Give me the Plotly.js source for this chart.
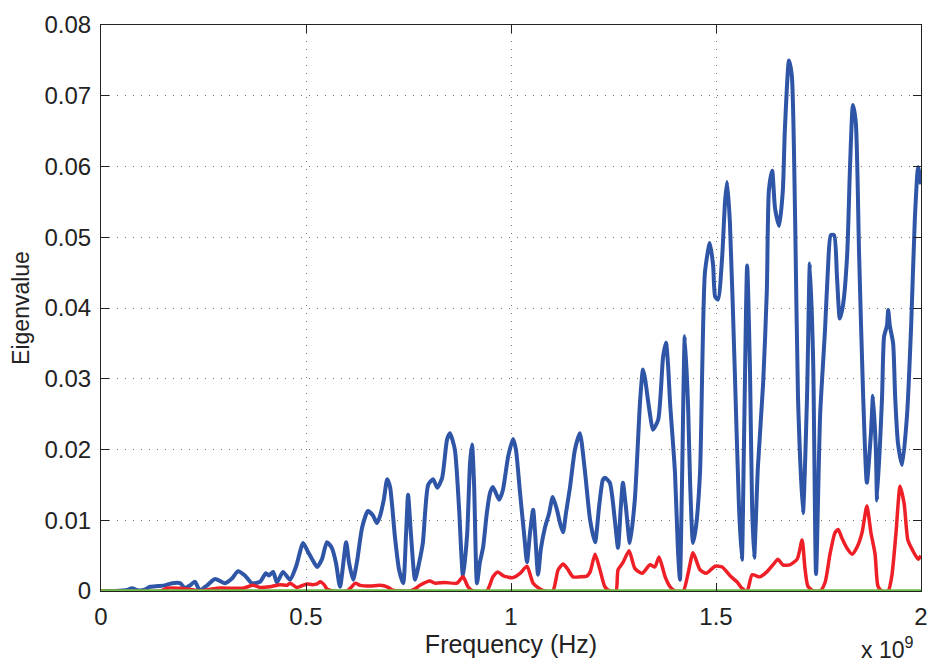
<!DOCTYPE html>
<html>
<head>
<meta charset="utf-8">
<script src="https://cdn.plot.ly/plotly-3.0.1.min.js"></script>
<style>
html,body{margin:0;padding:0;background:#fff;}
#chart{width:928px;height:664px;}
</style>
</head>
<body>
<div id="chart"></div>
<script>
// Frequency in units of 1e9 Hz
const blueFreq = [0.000,0.034,0.066,0.076,0.090,0.107,0.120,0.139,0.156,0.173,0.193,0.205,0.217,0.229,0.241,0.259,0.278,0.302,0.320,0.334,0.351,0.368,0.388,0.402,0.410,0.420,0.429,0.444,0.461,0.476,0.493,0.505,0.515,0.527,0.539,0.551,0.563,0.573,0.583,0.598,0.605,0.615,0.624,0.637,0.651,0.663,0.673,0.680,0.690,0.698,0.705,0.717,0.727,0.737,0.744,0.749,0.756,0.766,0.776,0.785,0.798,0.810,0.820,0.832,0.844,0.851,0.863,0.873,0.883,0.893,0.900,0.905,0.910,0.917,0.924,0.932,0.941,0.949,0.956,0.971,0.980,0.993,1.005,1.012,1.022,1.032,1.039,1.046,1.054,1.059,1.066,1.073,1.083,1.093,1.102,1.112,1.120,1.127,1.134,1.144,1.156,1.168,1.180,1.193,1.205,1.215,1.224,1.229,1.241,1.254,1.261,1.268,1.273,1.280,1.290,1.302,1.315,1.322,1.327,1.334,1.339,1.346,1.359,1.371,1.378,1.383,1.388,1.400,1.407,1.412,1.417,1.424,1.432,1.437,1.444,1.451,1.461,1.473,1.485,1.493,1.498,1.505,1.515,1.522,1.527,1.534,1.546,1.556,1.563,1.568,1.576,1.583,1.588,1.593,1.602,1.615,1.624,1.629,1.637,1.644,1.654,1.663,1.668,1.678,1.685,1.693,1.700,1.712,1.722,1.729,1.737,1.744,1.754,1.766,1.773,1.780,1.788,1.795,1.802,1.810,1.820,1.827,1.834,1.841,1.849,1.859,1.868,1.878,1.883,1.890,1.893,1.905,1.910,1.917,1.920,1.924,1.932,1.937,1.944,1.954,1.966,1.976,1.985,1.993,2.000];
const blueEig = [0,0,0.0002,0.0004,0.0001,0.0002,0.0006,0.0007,0.0008,0.0011,0.0011,0.0004,0.0008,0.0013,0.0001,0.0008,0.0017,0.0011,0.0018,0.0028,0.0022,0.0011,0.0013,0.0025,0.0022,0.0027,0.0012,0.0027,0.0016,0.0035,0.0068,0.0055,0.0045,0.0034,0.0045,0.0069,0.0061,0.0040,0.0006,0.0069,0.0040,0.0016,0.0040,0.0090,0.0113,0.0107,0.0096,0.0105,0.0130,0.0158,0.0147,0.0076,0.0030,0.0011,0.0080,0.0136,0.0080,0.0016,0.0040,0.0068,0.0150,0.0158,0.0146,0.0160,0.0214,0.0223,0.0200,0.0120,0.0020,0.0080,0.0180,0.0207,0.0150,0.0011,0.0040,0.0062,0.0110,0.0139,0.0147,0.0129,0.0142,0.0190,0.0215,0.0200,0.0139,0.0080,0.0041,0.0080,0.0115,0.0080,0.0023,0.0060,0.0090,0.0110,0.0133,0.0115,0.0095,0.0083,0.0110,0.0147,0.0200,0.0223,0.0171,0.0100,0.0069,0.0120,0.0157,0.0160,0.0153,0.0096,0.0061,0.0120,0.0153,0.0120,0.0068,0.0129,0.0270,0.0313,0.0300,0.0270,0.0250,0.0228,0.0242,0.0331,0.0351,0.0320,0.0266,0.0167,0.0060,0.0016,0.0150,0.0360,0.0260,0.0150,0.0068,0.0090,0.0167,0.0450,0.0492,0.0460,0.0416,0.0412,0.0472,0.0550,0.0578,0.0520,0.0308,0.0120,0.0044,0.0200,0.0460,0.0308,0.0120,0.0047,0.0173,0.0294,0.0425,0.0566,0.0594,0.0541,0.0516,0.0566,0.0652,0.0750,0.0728,0.0526,0.0274,0.0110,0.0274,0.0463,0.0324,0.0024,0.0249,0.0370,0.0455,0.0503,0.0503,0.0445,0.0385,0.0405,0.0476,0.0602,0.0687,0.0662,0.0476,0.0274,0.0153,0.0224,0.0276,0.0198,0.0128,0.0274,0.0360,0.0375,0.0397,0.0375,0.0350,0.0274,0.0208,0.0178,0.0249,0.0375,0.0526,0.0599,0.0575];

const redFreq = [0.000,0.144,0.161,0.210,0.241,0.283,0.346,0.371,0.388,0.412,0.437,0.454,0.461,0.478,0.502,0.515,0.527,0.534,0.544,0.551,0.566,0.600,0.610,0.620,0.632,0.656,0.680,0.698,0.712,0.754,0.766,0.778,0.802,0.815,0.839,0.868,0.883,0.895,0.907,0.941,0.956,0.968,0.980,0.990,1.005,1.022,1.039,1.054,1.071,1.083,1.102,1.115,1.127,1.137,1.151,1.168,1.185,1.193,1.205,1.217,1.229,1.241,1.256,1.261,1.273,1.288,1.302,1.320,1.339,1.351,1.361,1.376,1.388,1.400,1.420,1.432,1.444,1.461,1.476,1.498,1.515,1.537,1.551,1.563,1.576,1.588,1.607,1.624,1.639,1.651,1.663,1.680,1.698,1.710,1.717,1.724,1.737,1.754,1.766,1.778,1.790,1.798,1.807,1.820,1.832,1.844,1.856,1.868,1.878,1.888,1.895,1.905,1.920,1.929,1.939,1.949,1.959,1.968,1.980,1.993,2.000];
const redEig = [0,0,0.0004,0.0003,0,0.0004,0.0004,0.0008,0.0005,0.0006,0.0009,0.0008,0.0011,0.0005,0.0010,0.0009,0.0010,0.0013,0.0009,0.0003,0,0,0.0005,0.0011,0.0008,0.0007,0.0008,0.0006,0.0001,0,0.0003,0.0008,0.0014,0.0011,0.0012,0.0011,0.0020,0.0006,0,0,0.0020,0.0027,0.0022,0.0020,0.0019,0.0025,0.0035,0.0011,0.0003,0,0,0.0030,0.0038,0.0032,0.0020,0.0020,0.0021,0.0027,0.0052,0.0030,0.0006,0,0,0.0030,0.0040,0.0057,0.0032,0.0025,0.0037,0.0034,0.0048,0.0020,0.0006,0,0,0.0025,0.0054,0.0030,0.0025,0.0035,0.0034,0.0020,0.0013,0.0004,0,0.0023,0.0020,0.0027,0.0037,0.0045,0.0037,0.0037,0.0045,0.0072,0.0032,0.0007,0,0,0.0012,0.0052,0.0082,0.0087,0.0075,0.0060,0.0052,0.0062,0.0082,0.0120,0.0082,0.0052,0.0007,0,0,0.0022,0.0082,0.0148,0.0123,0.0072,0.0057,0.0045,0.0050];

const greenFreq = [0, 2];
const greenEig = [0, 0];

const xTickVals = [0, 0.5, 1, 1.5, 2];
const xTickText = ['0', '0.5', '1', '1.5', '2'];
const yTickVals = [0, 0.01, 0.02, 0.03, 0.04, 0.05, 0.06, 0.07, 0.08];
const yTickText = ['0', '0.01', '0.02', '0.03', '0.04', '0.05', '0.06', '0.07', '0.08'];

const FONT = '"Liberation Sans", Arial, Helvetica, sans-serif';

const traces = [
  {x: blueFreq, y: blueEig, type: 'scatter', mode: 'lines', line: {color: '#2F55A6', width: 4, shape: 'spline', smoothing: 0.6}, hoverinfo: 'none'},
  {x: redFreq, y: redEig, type: 'scatter', mode: 'lines', line: {color: '#EE1F26', width: 3.5, shape: 'spline', smoothing: 0.6}, hoverinfo: 'none'},
  {x: greenFreq, y: greenEig, type: 'scatter', mode: 'lines', line: {color: '#6CBD45', width: 3.5}, hoverinfo: 'none', cliponaxis: false}
];

const axisCommon = {
  showline: true, linecolor: '#222', linewidth: 1, mirror: 'ticks',
  ticks: 'inside', ticklen: 8, tickwidth: 1, tickcolor: '#222',
  showgrid: true, gridcolor: '#777', gridwidth: 1, griddash: '1px,7px',
  zeroline: false, tickfont: {family: FONT, size: 24, color: '#222'}
};

const layout = {
  width: 928, height: 664,
  margin: {l: 101, r: 7, t: 25, b: 73, pad: 0},
  paper_bgcolor: '#fff', plot_bgcolor: '#fff',
  showlegend: false,
  font: {family: FONT, color: '#222'},
  xaxis: Object.assign({}, axisCommon, {
    range: [0, 2], tickmode: 'array', tickvals: xTickVals, ticktext: xTickText,
    ticklabelstandoff: 4,
    title: {text: 'Frequency (Hz)', font: {family: FONT, size: 25, color: '#222'}, standoff: 0}
  }),
  yaxis: Object.assign({}, axisCommon, {
    range: [0, 0.08], tickmode: 'array', tickvals: yTickVals, ticktext: yTickText,
    ticklabelstandoff: 4,
    title: {text: 'Eigenvalue', font: {family: FONT, size: 23, color: '#222'}, standoff: 8}
  }),
  annotations: [{
    xref: 'paper', yref: 'paper', x: 1, y: 0, xanchor: 'right', yanchor: 'top',
    xshift: -6, yshift: -40, showarrow: false,
    text: 'x 10<sup>9</sup>', font: {family: FONT, size: 23, color: '#222'}
  }]
};

Plotly.newPlot('chart', traces, layout, {displayModeBar: false, staticPlot: true});
</script>
</body>
</html>
